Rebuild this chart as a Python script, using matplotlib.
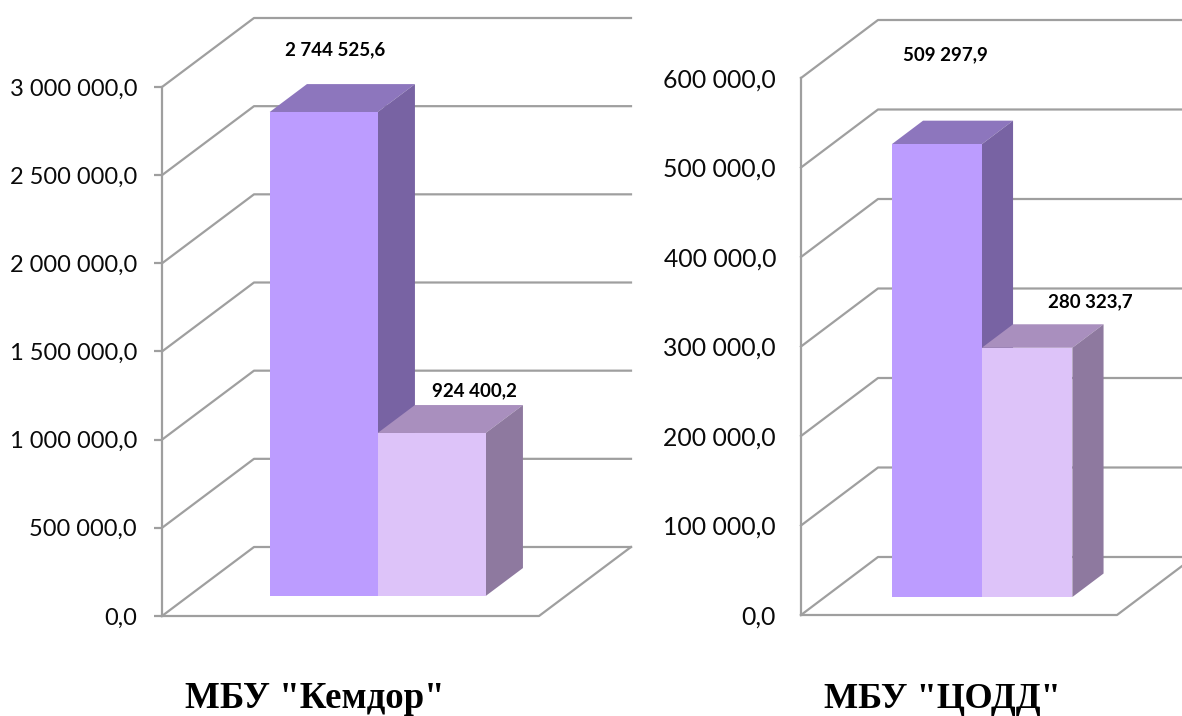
#!/usr/bin/env python3
from __future__ import annotations

import matplotlib

matplotlib.use("Agg")
import matplotlib.pyplot as plt
from matplotlib.ticker import FuncFormatter

W, H = 1182, 716

# values
kemdor_values = [2744525.6, 924400.2]
kemdor_ticks = [0, 500000, 1000000, 1500000, 2000000, 2500000, 3000000]
codd_values = [509297.9, 280323.7]
codd_ticks = [0, 100000, 200000, 300000, 400000, 500000, 600000]
titles = ['МБУ "Кемдор"', 'МБУ "ЦОДД"']

GRID = "#9f9f9f"
FRONT = ["#bc9cff", "#ddc3f9"]
SIDE = ["#7863a3", "#8e799f"]
TOP = ["#8d76bd", "#a98fbe"]


def fmt(v, _pos=None) -> str:
    return f"{v:,.1f}".replace(",", " ").replace(".", ",")


def fig_text(fig, x, y, s, **kw):
    fig.text(x / W, 1 - y / H, s, ha="center", va="center", **kw)


def draw_panel(fig, box, depth_px, ticks, values, bar_x, bar_depth, bar_scale, tick_len, pad, label_size):
    left, right, top, bottom = box
    ax = fig.add_axes([left / W, 1 - bottom / H, (right - left) / W, (bottom - top) / H])
    ax.set_xlim(left, right)
    ax.set_ylim(ticks[0], ticks[-1])
    ax.patch.set_visible(False)

    per_px = (ticks[-1] - ticks[0]) / (bottom - top)
    dx, dy = depth_px[0], depth_px[1] * per_px

    def proj(x, d, v):
        return x + d * dx, v + d * dy

    # back wall grid, side wall lines and floor
    for v in ticks:
        a = proj(left, 0, v)
        b = proj(left, 1, v)
        c = proj(right, 1, v)
        ax.plot([a[0], b[0], c[0]], [a[1], b[1], c[1]], color=GRID, lw=1.6, clip_on=False, zorder=1)
    f1 = proj(right, 0, 0)
    f2 = proj(right, 1, 0)
    ax.plot([left, f1[0], f2[0]], [0, f1[1], f2[1]], color=GRID, lw=1.6, clip_on=False, zorder=1)

    # boxes, far side first so shared edges stay clean
    d0, d1 = bar_depth
    for i, val in enumerate(values):
        v = val * bar_scale  # the boxes sit slightly short of the wall scale in the 3d view
        x0, x1 = bar_x[i], bar_x[i + 1]
        corners_top = [proj(x0, d0, v), proj(x1, d0, v), proj(x1, d1, v), proj(x0, d1, v)]
        corners_side = [proj(x1, d0, 0), proj(x1, d1, 0), proj(x1, d1, v), proj(x1, d0, v)]
        corners_front = [proj(x0, d0, 0), proj(x1, d0, 0), proj(x1, d0, v), proj(x0, d0, v)]
        for pts, col in ((corners_top, TOP[i]), (corners_side, SIDE[i]), (corners_front, FRONT[i])):
            ax.fill(*zip(*pts), color=col, lw=0, clip_on=False, zorder=2 + i)

    ax.set_xticks([])
    ax.set_yticks(ticks)
    ax.yaxis.set_major_formatter(FuncFormatter(fmt))
    ax.tick_params(axis="y", length=tick_len, width=1.6, color=GRID, pad=pad, labelsize=label_size, labelcolor="#0a0a0a")
    for s in ("top", "right", "bottom"):
        ax.spines[s].set_visible(False)
    ax.spines["left"].set_color(GRID)
    ax.spines["left"].set_linewidth(1.6)
    return ax


def main() -> None:
    plt.rcParams["font.family"] = ["Lato", "DejaVu Sans"]
    fig = plt.figure(figsize=(W / 100, H / 100), dpi=100, facecolor="white")

    draw_panel(
        fig,
        box=(162, 539, 87, 616),
        depth_px=(92, 69),
        ticks=kemdor_ticks,
        values=kemdor_values,
        bar_x=(243, 351, 459),
        bar_depth=(0.29, 0.695),
        bar_scale=1.0,
        tick_len=6,
        pad=12,
        label_size=17,
    )
    draw_panel(
        fig,
        box=(801, 1117, 78, 615),
        depth_px=(77, 58),
        ticks=codd_ticks,
        values=codd_values,
        bar_x=(868, 958, 1048.5),
        bar_depth=(0.31, 0.715),
        bar_scale=0.9935,
        tick_len=1,
        pad=17,
        label_size=17.8,
    )

    label_kw = dict(fontsize=13.5, fontweight="bold", color="black")
    fig_text(fig, 335, 50, fmt(kemdor_values[0]), **label_kw)
    fig_text(fig, 474, 391, fmt(kemdor_values[1]), **label_kw)
    fig_text(fig, 945, 55, fmt(codd_values[0]), **label_kw)
    fig_text(fig, 1090, 302, fmt(codd_values[1]), **label_kw)

    title_kw = dict(family="Liberation Serif", fontweight="bold", color="black")
    fig_text(fig, 315, 698, titles[0], fontsize=26.6, **title_kw)
    fig_text(fig, 942, 699, titles[1], fontsize=26.1, **title_kw)

    fig.savefig("out.png", dpi=100)
    plt.close(fig)


if __name__ == "__main__":
    main()
